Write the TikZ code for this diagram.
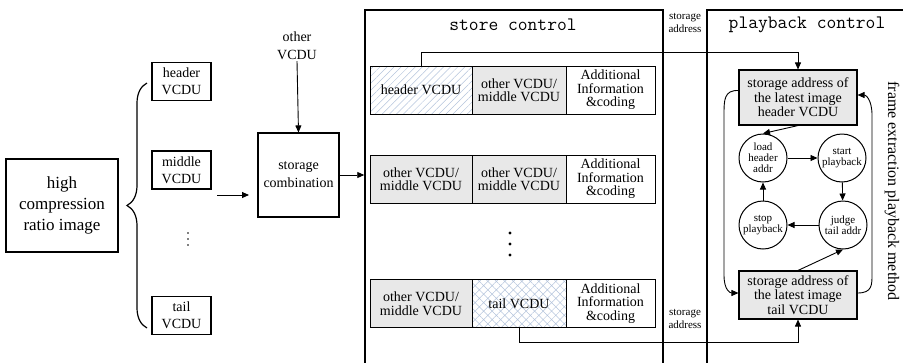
\documentclass[tikz,border=0pt]{standalone}
\usepackage{fontspec}
\setmainfont{Liberation Serif}
\usetikzlibrary{arrows.meta,patterns.meta,decorations.pathreplacing}
\definecolor{cellgray}{HTML}{E8E8E8}
\definecolor{hatchblue}{HTML}{B4C4DC}
\begin{document}
\begin{tikzpicture}[x=1pt,y=-1pt,
  box/.style={draw,line width=1.1pt,align=center,inner sep=0pt},
  smallbox/.style={box,minimum width=59pt,minimum height=38pt,font=\fontsize{14}{17}\selectfont},
  cell/.style={draw,line width=1pt,align=center,inner sep=0pt,minimum height=48pt,font=\fontsize{14}{13.5}\selectfont},
  cA/.style={cell,minimum width=102pt},
  cB/.style={cell,minimum width=94pt},
  cC/.style={cell,minimum width=89pt},
  grayc/.style={fill=cellgray},
  hatchc/.style={pattern={Lines[angle=45,distance=5pt,line width=0.5pt]},pattern color=hatchblue},
  crossc/.style={pattern={Hatch[angle=45,distance=6pt,line width=0.5pt]},pattern color=hatchblue},
  frame/.style={draw,line width=1.5pt,inner sep=0pt},
  pbox/.style={box,fill=cellgray,minimum width=118pt,font=\fontsize{14}{14.5}\selectfont},
  state/.style={draw,line width=1pt,circle,minimum size=48pt,inner sep=0pt,align=center,font=\fontsize{11}{11}\selectfont},
  conn/.style={line width=0.9pt,-{Triangle[length=7pt,width=6pt]}},
  ttl/.style={font=\fontsize{19}{19}\ttfamily},
  tiny/.style={align=center,inner sep=0pt,font=\fontsize{11}{13}\selectfont}
]
\useasboundingbox (0,0) rectangle (903,362);

% left part
\node[box,minimum width=112pt,minimum height=93pt,font=\fontsize{17}{21}\selectfont] (img) at (62,205.5) {high\\compression\\ratio image};
\draw[line width=1.2pt,decorate,decoration={brace,amplitude=20pt}] (147,328) -- (147,83);
\node[smallbox] (hv) at (181.5,81.5) {header\\VCDU};
\node[smallbox] (mv) at (181.5,170) {middle\\VCDU};
\node[smallbox] (tv) at (181.5,315.5) {tail\\VCDU};
\fill (188,233) circle (0.8pt);
\fill (188,239) circle (0.8pt);
\fill (188,245) circle (0.8pt);
\coordinate (a1) at (217,195);
\coordinate (a2) at (249,195);
\draw[conn] (a1) -- (a2);

\node[box,minimum width=81pt,minimum height=84pt,font=\fontsize{14}{18}\selectfont] (sc) at (298.5,175) {storage\\combination};
\node[align=center,inner sep=1pt,font=\fontsize{14}{18}\selectfont] (ov) at (297,46) {other\\VCDU};
\draw[conn] (ov.south) -- (sc.north);

% frames
\node[frame,minimum width=298pt,minimum height=370pt] (store) at (514,195) {};
\node[frame,minimum width=210pt,minimum height=370pt] (pb) at (812,195) {};
\node[ttl] (stl) at (513,25) {store control};
\node[ttl] (ptl) at (807,25) {playback control};
\node[tiny] (sa1) at (685,23) {storage\\address};
\node[tiny] (sa2) at (685,319) {storage\\address};
\draw[conn] (sc.east) -- (sc.east -| store.west);

% store rows
\node[cA,hatchc] (h1) at (421,90) {header VCDU};
\node[cB,grayc] (h2) at (519,90) {other VCDU/\\middle VCDU};
\node[cC] (h3) at (610.5,90) {Additional\\Information\\\&coding};
\node[cA,grayc] (m1) at (421,179) {other VCDU/\\middle VCDU};
\node[cB,grayc] (m2) at (519,179) {other VCDU/\\middle VCDU};
\node[cC] (m3) at (610.5,179) {Additional\\Information\\\&coding};
\node[cA,grayc] (t1) at (421,303.5) {other VCDU/\\middle VCDU};
\node[cB,crossc] (t2) at (519,303.5) {tail VCDU};
\node[cC] (t3) at (610.5,303.5) {Additional\\Information\\\&coding};
\fill (510,233) circle (1.6pt);
\fill (510,244) circle (1.6pt);
\fill (510,255) circle (1.6pt);

% playback
\node[pbox,minimum height=55pt] (hdr) at (798,97.5) {storage address of\\the latest image\\header VCDU};
\node[pbox,minimum height=48pt] (tl) at (798,295) {storage address of\\the latest image\\tail VCDU};
\node[state] (load) at (763,158) {load\\header\\addr};
\node[state] (start) at (842,158) {start\\playback};
\node[state] (judge) at (843,225) {judge\\tail addr};
\node[state] (stop) at (763,225) {stop\\playback};
\draw[conn] (hdr.south) -- (load.north);
\draw[conn] (load) -- (start);
\draw[conn] (start) -- (judge);
\draw[conn] (judge) -- (stop);
\draw[conn] (stop) -- (load);
\draw[conn] (tl.north) -- (judge.south);
\draw[conn] ([yshift=7pt]hdr.west) .. controls (724,90) and (724,100) .. (724,115) -- (724,275) .. controls (724,290) and (730,293) .. ([yshift=2pt]tl.west);
\draw[conn] ([yshift=2pt]tl.east) .. controls (872,293) and (872,285) .. (872,275) -- (872,115) .. controls (872,100) and (866,95) .. ([yshift=2.5pt]hdr.east);
\draw[conn] (h1.north) -- ++(0,-13) -| (hdr.north);
\draw[conn] (t2.south) -- ++(0,15) -| (tl.south);
\node[rotate=-90,font=\fontsize{16}{16}\selectfont] (fe) at (892,191) {frame extraction playback method};
\end{tikzpicture}
\end{document}
